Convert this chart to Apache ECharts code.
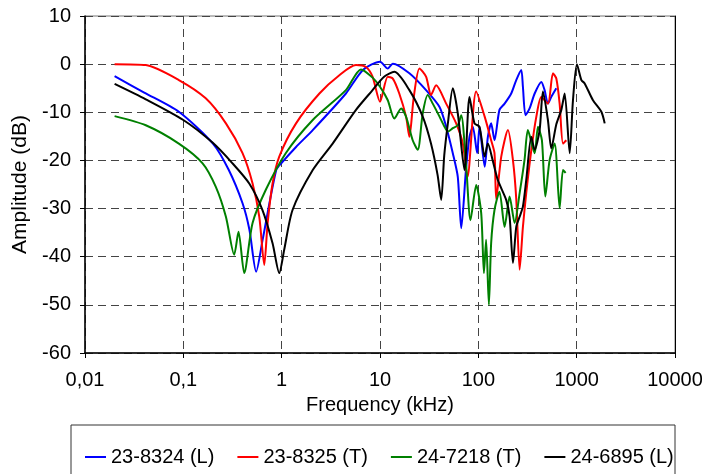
<!DOCTYPE html>
<html>
<head>
<meta charset="utf-8">
<script src="https://cdn.jsdelivr.net/npm/echarts@6/dist/echarts.min.js"></script>
<style>
  html, body { margin: 0; padding: 0; background: #fff; }
  #main { width: 702px; height: 474px; }
</style>
</head>
<body>
<div id="main"></div>
<script>
// series names (legend)
var names = ['23-8324 (L)', '23-8325 (T)', '24-7218 (T)', '24-6895 (L)']
var colors = ['#0000ff', '#ff0000', '#008000', '#000000']

// 23-8324 (L)
var blueF = [0.02, 0.04, 0.09, 0.2, 0.29, 0.4, 0.47, 0.55, 0.64, 0.88, 1.0, 1.4, 2.07, 4.5, 6.7, 10, 12, 13.5, 19.9, 29.4, 40.3, 47.1, 55, 61.8, 67, 75.3, 81.3, 87.9, 97.3, 102.7, 116, 125, 135, 146, 164, 185, 216, 243, 273, 284, 302, 332, 374, 437, 472, 510, 552, 621]
var blueDb = [-2.5, -5.9, -9.9, -16.5, -22, -28.9, -34.4, -43.1, -36.5, -22, -20.5, -17.2, -13.7, -6.1, -1.2, 0.5, -0.9, 0.1, -1.9, -5.4, -8.9, -13, -18.5, -23.4, -34.1, -21.3, -15.1, -13, -18.5, -13, -21.3, -15.1, -12.3, -15.8, -9.5, -8.2, -6.1, -3.3, -1.2, -4.7, -10.6, -9.2, -6.1, -3.7, -5.4, -8.2, -6.8, -5]

// 23-8325 (T)
var redF = [0.02, 0.0415, 0.09, 0.169, 0.271, 0.4, 0.506, 0.592, 0.665, 0.72, 0.808, 0.945, 1.4, 2.42, 3.86, 5.7, 7.2, 8.4, 10, 12, 13.5, 15.7, 18.4, 19.9, 22, 25.2, 29.4, 33, 37.2, 47.1, 59.5, 69.5, 77.6, 95, 116, 135, 146, 152, 171, 200, 225, 243, 263, 284, 307, 346, 389, 437, 510, 574, 621, 671, 726, 785]
var redDb = [0, -0.2, -3.3, -7.1, -12.3, -18.5, -24.8, -31.7, -41.7, -33, -24.8, -19.2, -12.3, -6.1, -2.3, -0.2, -0.6, -2.6, -7.8, -2.6, -3, -6.1, -10.9, -15.1, -7, -0.9, -2.6, -6.4, -4.4, -8.2, -12.3, -16.5, -23.4, -5.7, -10.9, -15.8, -18.5, -28, -19.2, -13.7, -20, -28, -42.7, -33.8, -26.8, -17.8, -10.9, -6.8, -8.2, -1.9, -3, -8.2, -16.5, -15.8]

// 24-7218 (T)
var greenF = [0.02, 0.0415, 0.09, 0.157, 0.214, 0.271, 0.329, 0.364, 0.416, 0.506, 0.69, 1.1, 2.07, 4.5, 6.4, 8.4, 10, 12, 14, 16.4, 18.4, 21.5, 24.2, 27.2, 30.6, 34.4, 40.3, 45.3, 49, 55, 61.8, 67, 75.3, 83.2, 95.2, 107, 114, 120, 128, 135, 146, 164, 185, 208, 234, 263, 295, 319, 374, 404, 443, 480, 531, 597, 671, 726, 773]
var greenDb = [-10.8, -12.7, -16.5, -20.6, -25.5, -31.7, -39.6, -34.8, -43.4, -33, -26.1, -18.5, -11.6, -5.4, -1.1, -2.8, -4.7, -7.5, -11.3, -9.2, -10.9, -15.8, -17.8, -10.2, -6.4, -8.2, -10.9, -13, -14, -13.3, -12.7, -10.6, -21.3, -32.4, -25.1, -31, -43.4, -36.5, -50, -37.2, -30.3, -26.5, -33.8, -27.5, -33, -26.8, -19.9, -13.7, -18.5, -13, -15.8, -27.5, -19.9, -16.5, -29.9, -22, -22.6]

// 24-6895 (L)
var blackF = [0.02, 0.0415, 0.1, 0.198, 0.316, 0.468, 0.638, 0.808, 0.945, 1.06, 1.29, 2.07, 3.3, 5.7, 8.4, 11, 14, 19.9, 27.2, 33, 38.5, 41.9, 45, 49, 55, 61.8, 72.3, 81.3, 91.4, 102.7, 116, 125, 140, 158, 192, 208, 225, 243, 263, 284, 307, 346, 374, 420, 454, 510, 552, 621, 698, 755, 849, 917, 1006, 1117, 1206, 1465, 1783, 1928]
var blackDb = [-4.1, -7.3, -11.6, -16.3, -20.6, -24.8, -30.3, -37.2, -43.4, -38.6, -30.3, -22, -16.5, -9.5, -5.4, -2.6, -1.6, -5.4, -10.9, -16.5, -23, -28.2, -19, -12.3, -5, -10.2, -22, -6.8, -12.3, -13, -19.2, -16.5, -20, -24.1, -28.2, -31.7, -41.3, -33.8, -31.7, -29.6, -24.1, -15.1, -17.8, -13.7, -5.7, -11.6, -17.5, -12.5, -9.5, -6.1, -18.5, -7.5, 0, -3.3, -4, -7.5, -9.9, -12.3]

var yMin = -60
var yMax = 10
var yStep = 10

function pairs (f, v) {
  return f.map(function (x, i) { return [x, v[i]] })
}
var seriesData = [pairs(blueF, blueDb), pairs(redF, redDb), pairs(greenF, greenDb), pairs(blackF, blackDb)]

var font = 'Liberation Sans, Arial, sans-serif'
var gridLine = { lineStyle: { color: '#444', type: [8, 5], width: 1 } }

var myChart = echarts.init(document.getElementById('main'), null, { renderer: 'canvas' })

var option = {
  animation: false,
  backgroundColor: '#fff',
  textStyle: { fontFamily: font },
  grid: {
    left: 85, right: 27, top: 16, bottom: 121,
    outerBoundsMode: 'none',
    containLabel: false,
    show: true, borderColor: '#777', borderWidth: 1
  },
  xAxis: {
    type: 'log',
    logBase: 10,
    min: 0.01,
    max: 10000,
    name: 'Frequency (kHz)',
    nameLocation: 'middle',
    nameGap: 42,
    nameTextStyle: { fontSize: 20, color: '#000', fontFamily: font },
    axisLine: { onZero: false, lineStyle: { color: '#000', width: 1.5 } },
    axisTick: { inside: false, length: 5, lineStyle: { color: '#000' } },
    axisLabel: {
      margin: 17,
      fontSize: 20,
      color: '#000',
      fontFamily: font,
      formatter: function (v) { return String(Number(v.toPrecision(6))).replace('.', ',') }
    },
    splitLine: { show: true, lineStyle: gridLine.lineStyle }
  },
  yAxis: [{
    type: 'value',
    min: yMin,
    max: yMax,
    interval: yStep,
    name: 'Amplitude (dB)',
    nameLocation: 'middle',
    nameGap: 52,
    nameTextStyle: { fontSize: 21, color: '#000', fontFamily: font },
    axisLine: { show: true, onZero: false, lineStyle: { color: '#000', width: 1.5 } },
    axisTick: { show: true, inside: false, length: 5, lineStyle: { color: '#000' } },
    axisLabel: { margin: 14, fontSize: 20, color: '#000', fontFamily: font },
    splitLine: { show: true, lineStyle: gridLine.lineStyle }
  }, {
    type: 'value',
    position: 'right',
    min: yMin,
    max: yMax,
    interval: yStep,
    axisLine: { show: true, onZero: false, lineStyle: { color: '#000', width: 1 } },
    axisTick: { show: false },
    axisLabel: { show: false },
    splitLine: { show: false }
  }],
  legend: {
    data: names,
    left: 80,
    top: 442,
    icon: 'rect',
    itemWidth: 21,
    itemHeight: 2,
    itemGap: 23,
    textStyle: { fontSize: 20, color: '#000', fontFamily: font }
  },
  graphic: [{
    type: 'rect',
    shape: { x: 71, y: 425, width: 604, height: 60 },
    style: { fill: 'none', stroke: '#333', lineWidth: 1 },
    silent: true
  }],
  series: names.map(function (n, i) {
    return {
      name: n,
      type: 'line',
      data: seriesData[i],
      showSymbol: false,
      symbol: 'none',
      smooth: 0.25,
      lineStyle: { color: colors[i], width: 2 },
      itemStyle: { color: colors[i] }
    }
  })
}

myChart.setOption(option)
</script>
</body>
</html>
